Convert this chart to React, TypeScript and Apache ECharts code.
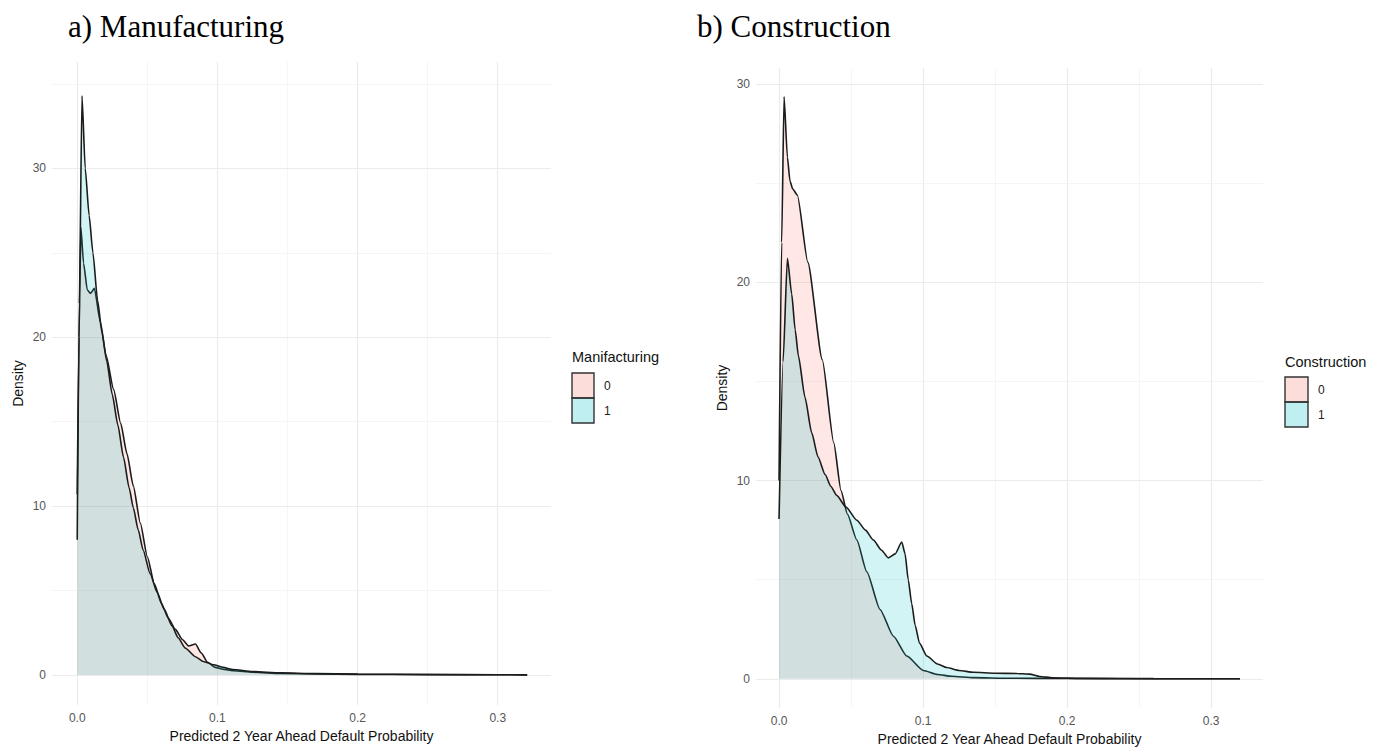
import React, { useEffect, useRef } from "react";
import * as echarts from "echarts";

// ---- tick labels / grid breaks ----
const xTicks = [0, 0.1, 0.2, 0.3];
const xMinor = [0.05, 0.15, 0.25];
const yTicks = [0, 10, 20, 30];
const yMinorLeft = [5, 15, 25, 35];
const yMinorRight = [5, 15, 25];

// ---- a) Manufacturing: density by group (x = predicted prob, y = density) ----
const manuf0: [number, number][] = [
  [0, 10.7], [0.0013, 20], [0.0026, 26.5], [0.0045, 24.4], [0.0072, 22.8],
  [0.0095, 22.6], [0.0122, 22.9], [0.0165, 20.9], [0.0205, 18.95], [0.026, 16.9],
  [0.031, 14.9], [0.0355, 13.1], [0.04, 11.2], [0.045, 9.0], [0.05, 7.0],
  [0.055, 5.4], [0.06, 4.25], [0.065, 3.35], [0.07, 2.7], [0.075, 2.1],
  [0.0795, 1.72], [0.0843, 1.83], [0.0885, 1.3], [0.093, 0.75], [0.0985, 0.45],
  [0.105, 0.32], [0.112, 0.25], [0.125, 0.16], [0.145, 0.09], [0.17, 0.06],
  [0.2, 0.035], [0.25, 0.018], [0.3, 0.009], [0.321, 0.005],
];
const manuf1: [number, number][] = [
  [0, 8.0], [0.0015, 22], [0.0034, 34.3], [0.0057, 30], [0.0085, 27.2],
  [0.0112, 25], [0.0145, 22.2], [0.0176, 20.3], [0.021, 18.6], [0.025, 16.6],
  [0.029, 14.8], [0.033, 12.9], [0.037, 11.1], [0.04, 9.9], [0.0435, 8.6],
  [0.047, 7.4], [0.052, 6.0], [0.057, 4.9], [0.062, 3.9], [0.0676, 2.9],
  [0.072, 2.2], [0.077, 1.6], [0.0843, 1.08], [0.09, 0.8], [0.0974, 0.6],
  [0.104, 0.45], [0.111, 0.32], [0.125, 0.2], [0.145, 0.12], [0.17, 0.08],
  [0.2, 0.05], [0.25, 0.025], [0.3, 0.012], [0.321, 0.005],
];

// ---- b) Construction ----
const constr0: [number, number][] = [
  [0, 10], [0.0018, 22], [0.0035, 29.35], [0.0058, 26.3], [0.0076, 25.1],
  [0.0095, 24.7], [0.0127, 24.4], [0.02, 21.0], [0.03, 16.1], [0.038, 11.9],
  [0.043, 9.5], [0.0475, 8.3], [0.054, 7.0], [0.0609, 5.4], [0.0701, 3.5],
  [0.0794, 2.15], [0.0887, 1.15], [0.1002, 0.42], [0.11, 0.22], [0.12, 0.13],
  [0.135, 0.06], [0.16, 0.03], [0.2, 0.015], [0.25, 0.008], [0.32, 0.003],
];
const constr1: [number, number][] = [
  [0, 8.06], [0.0028, 16], [0.0058, 21.2], [0.0088, 19.4], [0.0112, 17.6],
  [0.0134, 16.3], [0.018, 14.2], [0.0227, 12.4], [0.027, 11.2], [0.032, 10.3],
  [0.036, 9.7], [0.04, 9.25], [0.0465, 8.66], [0.054, 8.0], [0.06, 7.5],
  [0.0655, 7.0], [0.071, 6.5], [0.0759, 6.1], [0.0806, 6.3], [0.0852, 6.9],
  [0.0875, 6.3], [0.0897, 5.0], [0.0921, 3.8], [0.0945, 2.7], [0.0975, 1.8],
  [0.1026, 1.15], [0.11, 0.75], [0.1164, 0.57], [0.125, 0.42], [0.135, 0.33],
  [0.15, 0.28], [0.165, 0.27], [0.174, 0.24], [0.181, 0.12], [0.19, 0.05],
  [0.21, 0.025], [0.26, 0.01], [0.32, 0.004],
];

const groups = ["0", "1"];
const titles = ["a) Manufacturing", "b) Construction"];
const legendTitles = ["Manifacturing", "Construction"];
const xName = "Predicted 2 Year Ahead Default Probability";
const yName = "Density";

const SANS = "Liberation Sans, Arial, Helvetica, sans-serif";
const SERIF = "Liberation Serif, Times New Roman, serif";
const PINK = "rgba(248,118,109,0.25)";
const CYAN = "rgba(0,191,196,0.25)";
const LINE = "#1c1c1c";

export default function App() {
  const ref = useRef<HTMLDivElement>(null);
  useEffect(() => {
    document.body.style.margin = "0";
    if (!ref.current) return;
    const chart = echarts.init(ref.current, null, { renderer: "svg" });

    const grids = [
      { left: 52, top: 62, width: 499, height: 643 },
      { left: 756, top: 68, width: 507, height: 644 },
    ];
    const xRanges = [[-0.018, 0.338], [-0.016, 0.336]];
    const yRanges = [[-1.78, 36.3], [-1.47, 30.8]];
    const yMinors = [yMinorLeft, yMinorRight];
    const nameGaps = [23, 24];

    const xAxes = grids.map((_, i) => ({
      type: "value",
      gridIndex: i,
      min: xRanges[i][0],
      max: xRanges[i][1],
      axisLine: { show: false },
      axisTick: { show: false },
      splitLine: { show: false },
      axisLabel: {
        customValues: xTicks,
        formatter: (v: number) => v.toFixed(1),
        color: "#555",
        fontSize: 12,
        fontFamily: SANS,
        margin: 7,
      },
      name: xName,
      nameLocation: "middle",
      nameGap: nameGaps[i],
      nameTextStyle: { color: "#111", fontSize: 14, fontFamily: SANS },
    }));
    const yAxes = grids.map((_, i) => ({
      type: "value",
      gridIndex: i,
      min: yRanges[i][0],
      max: yRanges[i][1],
      axisLine: { show: false },
      axisTick: { show: false },
      splitLine: { show: false },
      axisLabel: {
        customValues: yTicks,
        formatter: (v: number) => String(Math.round(v)),
        color: "#555",
        fontSize: 12,
        fontFamily: SANS,
        margin: 6,
      },
      name: yName,
      nameLocation: "middle",
      nameGap: 27,
      nameTextStyle: { color: "#111", fontSize: 14, fontFamily: SANS },
    }));

    const gridSeries = grids.map((_, i) => ({
      type: "line",
      xAxisIndex: i,
      yAxisIndex: i,
      data: [],
      silent: true,
      markLine: {
        silent: true,
        z: 1,
        symbol: "none",
        label: { show: false },
        animation: false,
        data: [
          ...xTicks.map((v) => ({ xAxis: v, lineStyle: { color: "#ebebeb", width: 1.1, type: "solid" } })),
          ...xMinor.map((v) => ({ xAxis: v, lineStyle: { color: "#f3f3f3", width: 0.8, type: "solid" } })),
          ...yTicks.map((v) => ({ yAxis: v, lineStyle: { color: "#ebebeb", width: 1.1, type: "solid" } })),
          ...yMinors[i].map((v) => ({ yAxis: v, lineStyle: { color: "#f3f3f3", width: 0.8, type: "solid" } })),
        ],
      },
    }));

    const densSeries = (data: [number, number][], i: number, fill: string, name: string, z: number) => ({
      type: "line",
      name,
      xAxisIndex: i,
      yAxisIndex: i,
      data,
      z,
      showSymbol: false,
      symbol: "none",
      smooth: 0.2,
      smoothMonotone: "x",
      lineStyle: { color: LINE, width: 1.6 },
      areaStyle: { color: fill, origin: 0 },
      silent: true,
    });

    const graphics: any[] = [];
    const titleX = [68, 697];
    titles.forEach((t, i) => {
      graphics.push({
        type: "text",
        x: titleX[i],
        y: 26.5,
        style: { text: t, fontSize: 31, fontFamily: SERIF, fill: "#000", verticalAlign: "middle", align: "left" },
      });
    });
    const legends = [
      { x: 572, ty: 357, by: 373, w: 22, h: 25, lx: 604 },
      { x: 1285, ty: 362, by: 377, w: 23, h: 25, lx: 1318 },
    ];
    legends.forEach((L, i) => {
      graphics.push({
        type: "text",
        x: L.x,
        y: L.ty,
        style: { text: legendTitles[i], fontSize: 14.5, fontFamily: SANS, fill: "#111", verticalAlign: "middle" },
      });
      [PINK, CYAN].forEach((c, k) => {
        graphics.push({
          type: "rect",
          shape: { x: L.x, y: L.by + k * L.h, width: L.w, height: L.h },
          style: { fill: c, stroke: "#333", lineWidth: 1.4 },
        });
        graphics.push({
          type: "text",
          x: L.lx,
          y: L.by + k * L.h + L.h / 2,
          style: { text: groups[k], fontSize: 12, fontFamily: SANS, fill: "#222", verticalAlign: "middle" },
        });
      });
    });

    chart.setOption({
      animation: false,
      backgroundColor: "#fff",
      grid: grids,
      xAxis: xAxes,
      yAxis: yAxes,
      series: [
        ...gridSeries,
        densSeries(manuf0, 0, PINK, "0", 2),
        densSeries(manuf1, 0, CYAN, "1", 3),
        densSeries(constr0, 1, PINK, "0", 2),
        densSeries(constr1, 1, CYAN, "1", 3),
      ],
      graphic: graphics,
    });
    return () => chart.dispose();
  }, []);
  return <div ref={ref} style={{ width: 1373, height: 751 }} />;
}
